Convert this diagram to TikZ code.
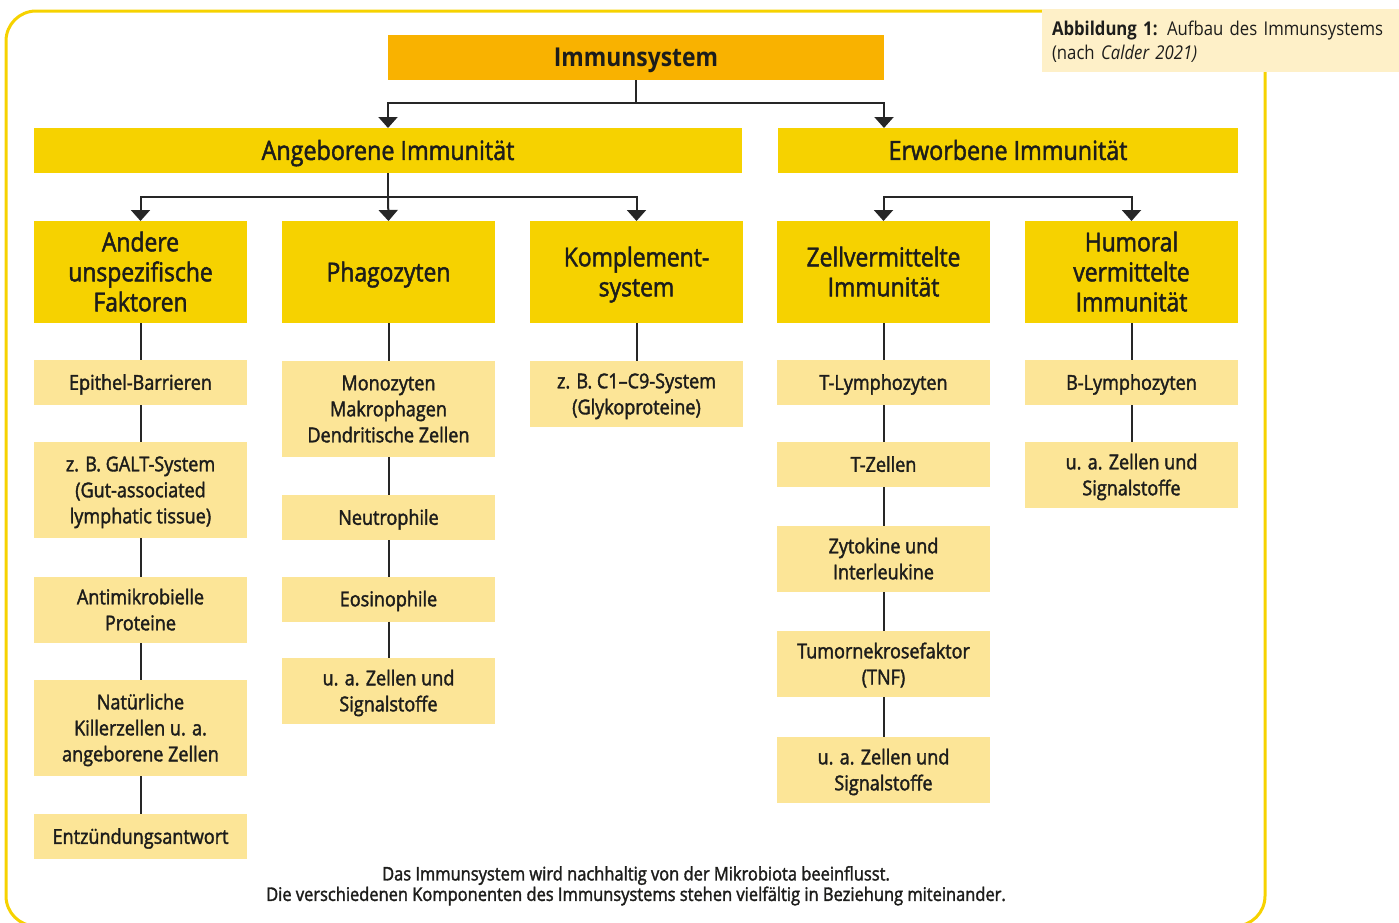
\documentclass[tikz,border=0pt]{standalone}
\usepackage{fontspec}
\setmainfont{Open Sans}[FakeStretch=0.88, UprightFeatures={FakeBold=1.8}]
\newfontfamily\capfont{Open Sans}[FakeStretch=0.88]
\usetikzlibrary{arrows.meta,calc}
\definecolor{txt}{HTML}{1D1D1B}
\definecolor{orangebox}{HTML}{F9B200}
\definecolor{yellowbox}{HTML}{F6D200}
\definecolor{lightbox}{HTML}{FCE597}
\definecolor{capfill}{HTML}{FEF0C8}
\definecolor{bordercol}{HTML}{F6D200}
\definecolor{linecol}{HTML}{262626}
\begin{document}
\begin{tikzpicture}[x=1pt,y=-1pt,
  base/.style={inner sep=0pt, outer sep=0pt, align=center, text=txt, text depth=0pt},
  topbox/.style={base, fill=orangebox, minimum width=496pt, minimum height=45pt,
    font=\bfseries\fontsize{26}{30}\selectfont, text height=18.6pt},
  lvltwo/.style={base, fill=yellowbox, minimum height=45pt,
    font=\fontsize{26.5}{30}\selectfont, text height=18.9pt},
  lvlthree/.style={base, fill=yellowbox, minimum width=213pt, minimum height=102pt,
    font=\fontsize{26}{30}\selectfont},
  bigone/.style={text height=18.6pt},
  bigtwo/.style={text height=48.6pt},
  bigthree/.style={text height=78.6pt},
  leaf/.style={base, fill=lightbox, minimum width=213pt,
    font=\fontsize{20.5}{26}\selectfont},
  one/.style={minimum height=45pt, text height=14.6pt},
  two/.style={minimum height=66pt, text height=40.6pt},
  three/.style={minimum height=96pt, text height=66.6pt},
  conn/.style={draw=linecol, line width=2pt},
  arr/.style={conn, -{Triangle[width=19pt,length=11pt]}, line cap=rect},
  frame/.style={draw=bordercol, line width=3pt, rounded corners=30pt}
]
\useasboundingbox (0,0) rectangle (1399,922);

% outer frame
\draw[frame] (6,11) rectangle (1265,926);

% caption
\node[base, fill=capfill, minimum width=358pt, minimum height=63pt, text width=338pt,
  align=left, font=\capfont\fontsize{19}{24}\selectfont, text height=13.6pt, text depth=24pt]
  (cap) at (1221,40.5)
  {\textbf{Abbildung 1:} Aufbau des Immunsystems\\(nach \textit{Calder 2021)}};

% level 1 and 2
\node[topbox] (imm) at (636,57.5) {Immunsystem};
\node[lvltwo, minimum width=708pt] (ang) at (388,150.5) {Angeborene Immunität};
\node[lvltwo, minimum width=460pt] (erw) at (1008,150.5) {Erworbene Immunität};

% level 3
\node[lvlthree, bigthree] (and) at (140.5,272) {Andere\\unspezifische\\Faktoren};
\node[lvlthree, bigone] (phag) at (388.5,272) {Phagozyten};
\node[lvlthree, bigtwo] (komp) at (636.5,272) {Komplement-\\system};
\node[lvlthree, bigtwo] (zell) at (883.5,272) {Zellvermittelte\\Immunität};
\node[lvlthree, bigthree] (hum) at (1131.5,272) {Humoral\\vermittelte\\Immunität};

% column 1
\node[leaf, one] (epi) at (140.5,382.5) {Epithel-Barrieren};
\node[leaf, three] (galt) at (140.5,490) {z. B. GALT-System\\(Gut-associated\\lymphatic tissue)};
\node[leaf, two] (anti) at (140.5,610) {Antimikrobielle\\Proteine};
\node[leaf, three] (nat) at (140.5,728) {Natürliche\\Killerzellen u. a.\\angeborene Zellen};
\node[leaf, one] (entz) at (140.5,836.5) {Entzündungsantwort};

% column 2
\node[leaf, three] (mono) at (388.5,409) {Monozyten\\Makrophagen\\Dendritische Zellen};
\node[leaf, one] (neut) at (388.5,517.5) {Neutrophile};
\node[leaf, one] (eos) at (388.5,599) {Eosinophile};
\node[leaf, two] (uaa) at (388.5,691) {u. a. Zellen und\\Signalstoffe};

% column 3
\node[leaf, two] (cnine) at (636.5,394) {z. B. C1–C9-System\\(Glykoproteine)};

% column 4
\node[leaf, one] (tly) at (883.5,382.5) {T-Lymphozyten};
\node[leaf, one] (tz) at (883.5,464.5) {T-Zellen};
\node[leaf, two] (zyt) at (883.5,559) {Zytokine und\\Interleukine};
\node[leaf, two] (tnf) at (883.5,664) {Tumornekrosefaktor\\(TNF)};
\node[leaf, two] (uab) at (883.5,770) {u. a. Zellen und\\Signalstoffe};

% column 5
\node[leaf, one] (bly) at (1131.5,382.5) {B-Lymphozyten};
\node[leaf, two] (uac) at (1131.5,475) {u. a. Zellen und\\Signalstoffe};

% footer
\node[base, font=\fontsize{18.7}{20.5}\selectfont, text height=33.8pt]
  (foot) at (636,884)
  {Das Immunsystem wird nachhaltig von der Mikrobiota beeinflusst.\\
   Die verschiedenen Komponenten des Immunsystems stehen vielfältig in Beziehung miteinander.};

% connectors level 1 -> 2
\coordinate (j1) at ($(imm.south)+(0,23)$);
\draw[conn] (imm.south) -- (j1);
\draw[arr] (j1) -| (ang.north);
\draw[arr] (j1) -| (erw.north -| imm.east);

% connectors level 2 -> 3
\coordinate (j2) at ($(ang.south)+(0,24)$);
\draw[conn] (ang.south) -- (j2);
\draw[arr] (j2) -| (and.north);
\draw[arr] (j2) -- (phag.north);
\draw[arr] (j2) -| (komp.north);
\coordinate (j3) at ($(zell.north)+(0,-24)$);
\draw[arr] (j3) -- (zell.north);
\draw[arr] (j3) -| (hum.north);

% vertical chains
\draw[conn] (and) -- (epi) -- (galt) -- (anti) -- (nat) -- (entz);
\draw[conn] (phag) -- (mono) -- (neut) -- (eos) -- (uaa);
\draw[conn] (komp) -- (cnine);
\draw[conn] (zell) -- (tly) -- (tz) -- (zyt) -- (tnf) -- (uab);
\draw[conn] (hum) -- (bly) -- (uac);
\end{tikzpicture}
\end{document}
